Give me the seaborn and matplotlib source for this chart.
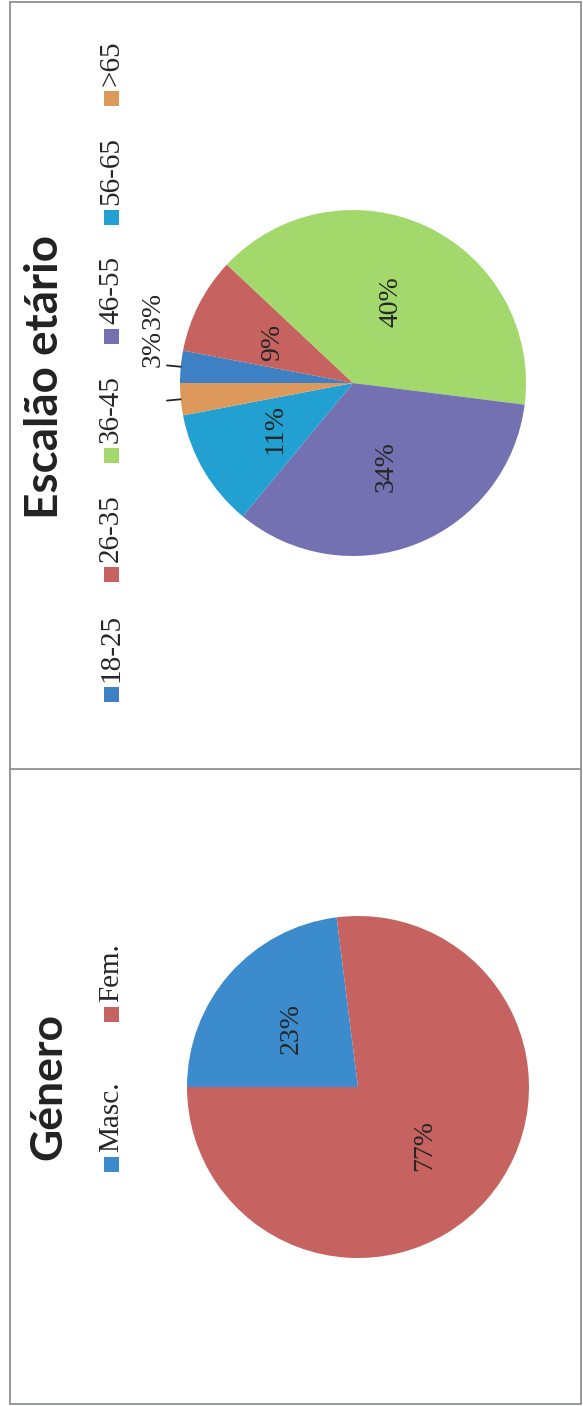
import matplotlib
matplotlib.use("Agg")
import numpy as np
import matplotlib.pyplot as plt
import seaborn as sns
from matplotlib.patches import Rectangle
from matplotlib.lines import Line2D

W, H = 583, 1406

age_title = "Escalão etário"
age_groups = ["18-25", "26-35", "36-45", "46-55", "56-65", ">65"]
age_pct = [3, 9, 40, 34, 11, 3]
age_colors = ["#3d80c4", "#c6625f", "#a2d86c", "#7471b2", "#22a0d2", "#dc995b"]

gender_title = "Género"
genders = ["Masc.", "Fem."]
gender_pct = [23, 77]
gender_colors = ["#3b8bcd", "#c6625f"]

sns.set_theme(style="white")
plt.rcParams["font.family"] = ["Liberation Serif", "DejaVu Serif"]
TXT = "#262626"

fig = plt.figure(figsize=(W / 100, H / 100), dpi=100)
fig.patch.set_facecolor("white")


def fx(px):
    return px / W


def fy(py):
    return 1 - py / H


def draw_pie(cx, cy, r, values, colors, small_pos=()):
    ax = fig.add_axes([fx(cx - r), fy(cy + r), 2 * r / W, 2 * r / H])
    wedges, _, autotexts = ax.pie(
        values, colors=sns.color_palette(colors), startangle=180, counterclock=False,
        autopct=lambda p: f"{p:.0f}%" if p >= 5 else "", pctdistance=0.52,
        textprops=dict(fontsize=20, color=TXT),
        wedgeprops=dict(linewidth=0))
    for t in autotexts:
        t.set_rotation(90)
        t.set_rotation_mode("anchor")
        t.set_ha("center")
        t.set_va("center")
    # small slices get a leader line and an outside label
    k = 0
    for w, v in zip(wedges, values):
        if v >= 5:
            continue
        a = np.deg2rad((w.theta1 + w.theta2) / 2)
        ax.plot([1.0 * np.cos(a), 1.08 * np.cos(a)], [1.0 * np.sin(a), 1.08 * np.sin(a)],
                color=TXT, lw=1.3, clip_on=False)
        px, py = small_pos[k]
        ax.text(px, py, f"{v}%", rotation=90, rotation_mode="anchor", ha="center", va="center",
                fontsize=20, color=TXT, clip_on=False)
        k += 1
    ax.set_xlim(-1, 1)
    ax.set_ylim(-1, 1)
    ax.axis("off")
    return ax


def draw_legend(labels, colors, x, y0, step, sq=15):
    for i, (lab, c) in enumerate(zip(labels, colors)):
        yc = y0 - i * step
        fig.add_artist(Rectangle((fx(x - sq / 2), fy(yc + sq / 2)), sq / W, sq / H,
                                 transform=fig.transFigure, color=c, lw=0))
        fig.text(fx(x), fy(yc - sq / 2 - 5), lab, rotation=90, rotation_mode="anchor",
                 ha="left", va="center", fontsize=21, color=TXT)


# age panel
draw_pie(353, 383, 173, age_pct, age_colors, small_pos=[(-1.156, 0.42), (-1.156, 0.20)])
fig.text(fx(45), fy(377), age_title, rotation=90, ha="center", va="center",
         fontsize=33, fontweight="bold", family=["Lato", "DejaVu Sans"], color="#222222")
draw_legend(age_groups, age_colors, 111, 694, 119.2)

# gender panel
draw_pie(358, 1087, 171, gender_pct, gender_colors)
fig.text(fx(48), fy(1086), gender_title, rotation=90, ha="center", va="center",
         fontsize=32, fontweight="bold", family=["Lato", "DejaVu Sans"], color="#222222")
draw_legend(genders, gender_colors, 111, 1164, 150)

# scanned frames
fig.add_artist(Rectangle((fx(10), fy(1404)), 571 / W, 1402 / H, transform=fig.transFigure,
                         fill=False, ec="#8c9196", lw=1.3))
fig.add_artist(Line2D([fx(10), fx(581)], [fy(769), fy(769)], transform=fig.transFigure,
                      color="#8c9196", lw=1.3))

fig.savefig("out.png", dpi=100, facecolor="white")
